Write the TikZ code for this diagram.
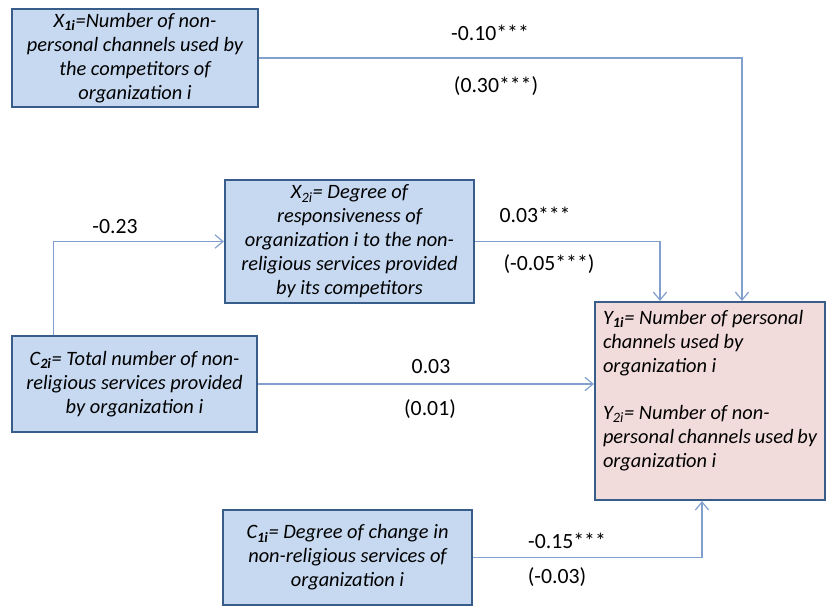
\documentclass[tikz,border=0pt]{standalone}
\usepackage{fontspec}
\setmainfont{Carlito}
\usetikzlibrary{arrows.meta}

\definecolor{boxblue}{RGB}{198,217,241}
\definecolor{boxpink}{RGB}{242,220,219}
\definecolor{edgeblue}{RGB}{56,93,138}
\definecolor{linkblue}{RGB}{130,160,205}

\begin{document}
\begin{tikzpicture}[x=0.75pt,y=-0.75pt,
    varbox/.style={fill=boxblue,draw=edgeblue,line width=1.6pt,inner sep=2pt,align=center,
        font=\fontsize{15.3}{18}\selectfont\itshape},
    outbox/.style={varbox,fill=boxpink,align=left,inner xsep=6pt,inner ysep=6pt},
    link/.style={draw=linkblue,line width=0.9pt,-{Straight Barb[length=6pt,width=10pt]}},
    coef/.style={font=\fontsize{16.3}{19}\selectfont}]
    \useasboundingbox (0,0) rectangle (827,609);

    % variables
    \node[varbox,minimum width=184.5pt,minimum height=74pt] (xone) at (135,58)
        {X\textsubscript{\textbf{1i}}=Number of non-\\personal channels used by\\the competitors of\\organization i};
    \node[varbox,minimum width=186.75pt,minimum height=92.25pt] (xtwo) at (349.5,241.5)
        {X\textsubscript{2i}= Degree of\\responsiveness of\\organization i to the non-\\religious services provided\\by its competitors};
    \node[varbox,minimum width=183.75pt,minimum height=72pt] (ctwo) at (134.5,384)
        {C\textsubscript{\textbf{2i}}= Total number of non-\\religious services provided\\by organization i};
    \node[varbox,minimum width=186.75pt,minimum height=71.25pt] (cone) at (347.5,557.5)
        {C\textsubscript{\textbf{1i}}= Degree of change in\\non-religious services of\\organization i};
    \node[outbox] (yout) at (710,401)
        {\parbox[c][136.5pt][t]{160.5pt}{Y\textsubscript{\textbf{1i}}= Number of personal\\channels used by\\organization i\\[17.5pt]
        Y\textsubscript{2i}= Number of non-\\personal channels used by\\organization i}};

    % paths
    \draw[link] (xone.east) -| ([xshift=24pt]yout.north);
    \draw[link] (xtwo.east) -| ([xshift=-37.5pt]yout.north);
    \draw[link] ([xshift=-61pt]ctwo.north) |- (xtwo.west);
    \draw[link] (ctwo.east) -- (ctwo.east -| yout.west);
    \draw[link] (cone.east) -| ([xshift=-6pt]yout.south);

    % coefficients
    \node[coef] (bxone) at (490,33) {-0.10***};
    \node[coef] (gxone) at (496,86) {(0.30***)};
    \node[coef] (bctwox) at (115,227) {-0.23};
    \node[coef] (bxtwo) at (535,215) {0.03***};
    \node[coef] (gxtwo) at (549,264) {(-0.05***)};
    \node[coef] (bctwo) at (431,367) {0.03};
    \node[coef] (gctwo) at (430,409) {(0.01)};
    \node[coef] (bcone) at (567,541) {-0.15***};
    \node[coef] (gcone) at (557,577) {(-0.03)};
\end{tikzpicture}
\end{document}
